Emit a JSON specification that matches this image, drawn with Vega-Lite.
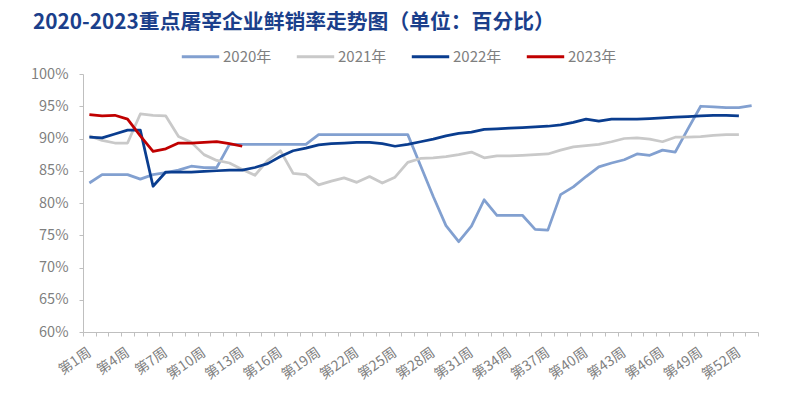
{
  "$schema": "https://vega.github.io/schema/vega-lite/v6.json",
  "width": 675,
  "height": 258,
  "autosize": "none",
  "padding": {"left": 83, "top": 74, "right": 42, "bottom": 66},
  "background": "white",
  "config": {"view": {"stroke": null}, "font": "Noto Sans CJK SC"},
  "title": {
    "text": "2020-2023重点屠宰企业鲜销率走势图（单位：百分比）",
    "anchor": "start",
    "frame": "group",
    "dx": -50,
    "offset": 2,
    "fontSize": 20.8,
    "fontWeight": "bold",
    "color": "#1B3F8B",
    "font": "Noto Sans CJK SC"
  },
  "data": {
    "values": [
      {"w": 1, "2020年": 83.1, "2021年": 90.4, "2022年": 90.2, "2023年": 93.7},
      {"w": 2, "2020年": 84.4, "2021年": 89.7, "2022年": 90.1, "2023年": 93.5},
      {"w": 3, "2020年": 84.4, "2021年": 89.3, "2022年": 90.7, "2023年": 93.6},
      {"w": 4, "2020年": 84.4, "2021年": 89.3, "2022年": 91.3, "2023年": 93.0},
      {"w": 5, "2020年": 83.7, "2021年": 93.8, "2022年": 91.3, "2023年": 90.4},
      {"w": 6, "2020年": 84.4, "2021年": 93.6, "2022年": 82.6, "2023年": 88.0},
      {"w": 7, "2020年": 84.7, "2021年": 93.5, "2022年": 84.8, "2023年": 88.4},
      {"w": 8, "2020年": 85.1, "2021年": 90.3, "2022年": 84.8, "2023年": 89.3},
      {"w": 9, "2020年": 85.7, "2021年": 89.4, "2022年": 84.8, "2023年": 89.3},
      {"w": 10, "2020年": 85.5, "2021年": 87.5, "2022年": 84.9, "2023年": 89.4},
      {"w": 11, "2020年": 85.5, "2021年": 86.6, "2022年": 85.0, "2023年": 89.5},
      {"w": 12, "2020年": 89.1, "2021年": 86.2, "2022年": 85.1, "2023年": 89.2},
      {"w": 13, "2020年": 89.1, "2021年": 85.2, "2022年": 85.1, "2023年": 88.8},
      {"w": 14, "2020年": 89.1, "2021年": 84.3, "2022年": 85.5},
      {"w": 15, "2020年": 89.1, "2021年": 86.6, "2022年": 86.1},
      {"w": 16, "2020年": 89.1, "2021年": 88.1, "2022年": 87.2},
      {"w": 17, "2020年": 89.1, "2021年": 84.6, "2022年": 88.1},
      {"w": 18, "2020年": 89.1, "2021年": 84.4, "2022年": 88.5},
      {"w": 19, "2020年": 90.6, "2021年": 82.8, "2022年": 89.0},
      {"w": 20, "2020年": 90.6, "2021年": 83.4, "2022年": 89.2},
      {"w": 21, "2020年": 90.6, "2021年": 83.9, "2022年": 89.3},
      {"w": 22, "2020年": 90.6, "2021年": 83.2, "2022年": 89.4},
      {"w": 23, "2020年": 90.6, "2021年": 84.1, "2022年": 89.4},
      {"w": 24, "2020年": 90.6, "2021年": 83.1, "2022年": 89.2},
      {"w": 25, "2020年": 90.6, "2021年": 84.0, "2022年": 88.8},
      {"w": 26, "2020年": 90.6, "2021年": 86.3, "2022年": 89.1},
      {"w": 27, "2020年": 85.8, "2021年": 86.9, "2022年": 89.5},
      {"w": 28, "2020年": 81.0, "2021年": 87.0, "2022年": 89.9},
      {"w": 29, "2020年": 76.5, "2021年": 87.2, "2022年": 90.4},
      {"w": 30, "2020年": 74.0, "2021年": 87.5, "2022年": 90.8},
      {"w": 31, "2020年": 76.4, "2021年": 87.9, "2022年": 91.0},
      {"w": 32, "2020年": 80.5, "2021年": 87.0, "2022年": 91.4},
      {"w": 33, "2020年": 78.1, "2021年": 87.3, "2022年": 91.5},
      {"w": 34, "2020年": 78.1, "2021年": 87.3, "2022年": 91.6},
      {"w": 35, "2020年": 78.1, "2021年": 87.4, "2022年": 91.7},
      {"w": 36, "2020年": 75.9, "2021年": 87.5, "2022年": 91.8},
      {"w": 37, "2020年": 75.8, "2021年": 87.6, "2022年": 91.9},
      {"w": 38, "2020年": 81.3, "2021年": 88.2, "2022年": 92.1},
      {"w": 39, "2020年": 82.5, "2021年": 88.7, "2022年": 92.5},
      {"w": 40, "2020年": 84.1, "2021年": 88.9, "2022年": 93.0},
      {"w": 41, "2020年": 85.6, "2021年": 89.1, "2022年": 92.7},
      {"w": 42, "2020年": 86.2, "2021年": 89.5, "2022年": 93.0},
      {"w": 43, "2020年": 86.7, "2021年": 90.0, "2022年": 93.0},
      {"w": 44, "2020年": 87.6, "2021年": 90.1, "2022年": 93.0},
      {"w": 45, "2020年": 87.4, "2021年": 89.9, "2022年": 93.1},
      {"w": 46, "2020年": 88.2, "2021年": 89.5, "2022年": 93.2},
      {"w": 47, "2020年": 87.9, "2021年": 90.2, "2022年": 93.3},
      {"w": 48, "2020年": 91.5, "2021年": 90.2, "2022年": 93.4},
      {"w": 49, "2020年": 95.0, "2021年": 90.3, "2022年": 93.5},
      {"w": 50, "2020年": 94.9, "2021年": 90.5, "2022年": 93.6},
      {"w": 51, "2020年": 94.8, "2021年": 90.6, "2022年": 93.6},
      {"w": 52, "2020年": 94.8, "2021年": 90.6, "2022年": 93.5},
      {"w": 53, "2020年": 95.1}
    ]
  },
  "transform": [
    {"fold": ["2020年", "2021年", "2022年", "2023年"], "as": ["series", "value"]}
  ],
  "mark": {"type": "line", "strokeWidth": 2.75, "strokeJoin": "round"},
  "encoding": {
    "x": {
      "field": "w",
      "type": "ordinal",
      "bandPosition": 0.5,
      "scale": {"type": "band", "paddingInner": 0, "paddingOuter": 0},
      "axis": {
        "title": null,
        "tickBand": "extent",
        "labelExpr": "(datum.value-1)%3==0 ? '第'+datum.value+'周' : ''",
        "labelAngle": -35,
        "labelAlign": "right",
        "labelBaseline": "middle",
        "labelPadding": 15,
        "labelOverlap": false,
        "labelFontSize": 14,
        "labelColor": "#7F7F7F",
        "tickSize": 4,
        "tickColor": "#BFBFBF",
        "domainColor": "#BFBFBF",
        "grid": false
      }
    },
    "y": {
      "field": "value",
      "type": "quantitative",
      "scale": {"domain": [60, 100], "nice": false, "zero": false},
      "axis": {
        "title": null,
        "values": [60, 65, 70, 75, 80, 85, 90, 95, 100],
        "labelExpr": "datum.value + '%'",
        "labelFontSize": 14.5,
        "labelColor": "#7F7F7F",
        "labelPadding": 11,
        "tickSize": 4,
        "tickColor": "#BFBFBF",
        "domainColor": "#BFBFBF",
        "grid": false
      }
    },
    "color": {
      "field": "series",
      "type": "nominal",
      "scale": {
        "domain": ["2020年", "2021年", "2022年", "2023年"],
        "range": ["#82A0D0", "#C9C9C9", "#0A3D8F", "#C00000"]
      },
      "legend": {
        "title": null,
        "orient": "none",
        "legendX": 97,
        "legendY": -38,
        "direction": "horizontal",
        "symbolType": "stroke",
        "symbolStrokeWidth": 3,
        "symbolSize": 1400,
        "labelFontSize": 15,
        "labelColor": "#7F7F7F",
        "labelOffset": 2,
        "columnPadding": 18,
        "padding": 0
      }
    }
  }
}
